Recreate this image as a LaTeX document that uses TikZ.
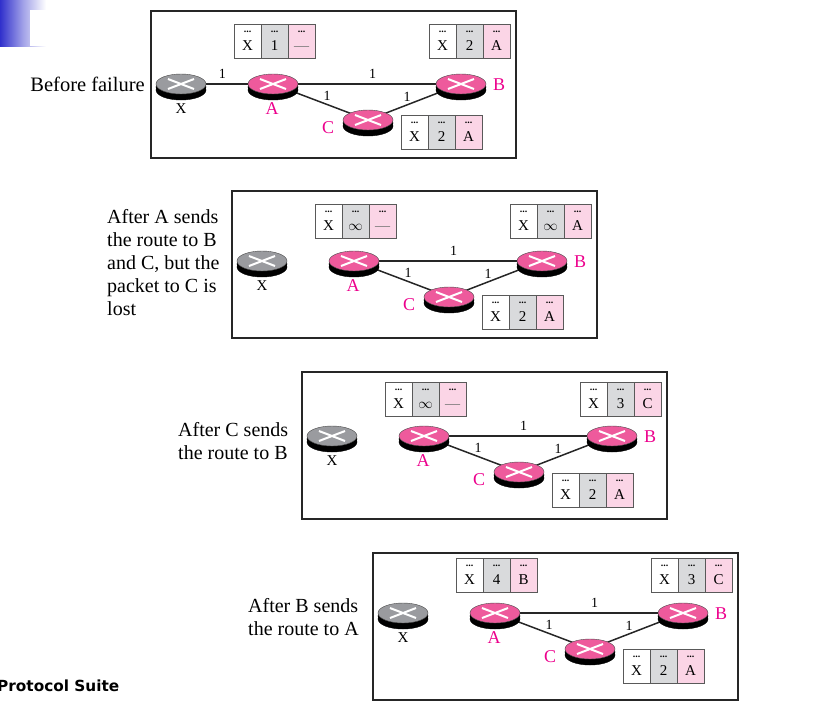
\documentclass[tikz,border=0pt]{standalone}
\usepackage{fontspec}
\setmainfont{Liberation Serif}
\newfontfamily\footfont{DejaVu Sans}
\usetikzlibrary{positioning,backgrounds,shadows,shapes.geometric}
\definecolor{hotpink}{HTML}{EC008C}
\definecolor{routerpink}{HTML}{EE5A9C}
\definecolor{routergray}{HTML}{9A9B9F}
\definecolor{cellgray}{HTML}{D9DADC}
\definecolor{cellpink}{HTML}{FBD5E6}
\definecolor{slidefade}{HTML}{3030CC}
\tikzset{
  panelbox/.style={draw=black!85,line width=1.2pt,minimum width=365pt,minimum height=147pt,inner sep=0pt,outer sep=0pt,anchor=north west},
  router/.style={ellipse,draw=black!70,line width=.4pt,fill=#1,minimum width=50pt,minimum height=20pt,inner sep=0pt,
    double copy shadow={shadow xshift=0pt,shadow yshift=-3pt,fill=black,draw=black},
    path picture={\draw[white,line width=2pt,shift={(path picture bounding box.center)}] (-13,-5) -- (13,5) (-13,5) -- (13,-5);}},
  rcell/.style={draw=black!65,line width=.6pt,minimum width=27pt,minimum height=34pt,inner sep=0pt,outer sep=0pt,align=center,fill=#1,font=\fontsize{15}{15}\selectfont},
  rlabel/.style={text=hotpink,font=\fontsize{18}{18}\selectfont,inner sep=0pt},
  xlabel/.style={font=\fontsize{15}{15}\selectfont,inner sep=0pt},
  cost/.style={font=\fontsize{14}{14}\selectfont,inner sep=0pt},
  link/.style={draw=black!85,line width=1.5pt},
  caption/.style={font=\fontsize{20}{23}\selectfont,inner sep=0pt,align=left,anchor=north west},
}
\newcommand{\dotrow}{{\fontsize{10}{5}\selectfont\textbf{...}}}
\newcommand{\nodash}{\textcolor{black!55}{---}}
% routing table of one router: name, position, then the two filled cells
\newcommand{\rtable}[4]{
  \node[rcell=white,anchor=north west] (#1x) at #2 {\dotrow\\[3pt]X};
  \node[rcell=cellgray,right=0pt of #1x] (#1c) {\dotrow\\[3pt]#3};
  \node[rcell=cellpink,right=0pt of #1c] (#1v) {\dotrow\\[3pt]#4};
}
\begin{document}
\begin{tikzpicture}[x=1pt,y=-1pt]
\useasboundingbox (0,0) rectangle (826,710);
% slide decoration
\shade[left color=slidefade,right color=white,middle color=slidefade!45] (0,0) rectangle (46,46);
\fill[white] (30,10) rectangle (46,46);
% the four panels have the same layout, only its height inside the box moves
\foreach \p/\dx/\dy/\ry/\ty/\ac/\av/\bc/\bv in {
  a/151/11/0/0/1/\nodash/2/A,
  b/232/191/-3/0/$\infty$/\nodash/$\infty$/A,
  c/302/372/-9/-3/$\infty$/\nodash/3/C,
  d/373/553/-13/-8/4/B/3/C}{
\begin{scope}[shift={(\dx,\dy)}]
\node[panelbox] (\p box) at (0,0) {};
\node[router=routergray] (\p X) at (30,73+\ry) {};
\node[router=routerpink] (\p A) at (122,73+\ry) {};
\node[router=routerpink] (\p B) at (310,73+\ry) {};
\node[router=routerpink] (\p C) at (217,109+\ry) {};
\node[xlabel] (\p xl) at (30,98+\ry) {X};
\node[rlabel] (\p al) at (121,98+\ry) {A};
\node[rlabel] (\p bl) at (348,74+\ry) {B};
\node[rlabel] (\p cl) at (177,117+\ry) {C};
\rtable{\p ta}{(83,13+\ty)}{\ac}{\av}
\rtable{\p tb}{(278,13+\ty)}{\bc}{\bv}
\rtable{\p tc}{(250,104+\ty)}{2}{A}
\begin{scope}[on background layer]
\draw[link] (\p A.center) -- node[cost,pos=.53,above=5pt] (\p ab) {1} (\p B.center);
\draw[link] (\p A.center) -- node[cost,pos=.57,above=3pt] (\p ac) {1} (\p C.center);
\draw[link] (\p C.center) -- node[cost,pos=.42,above=3pt] (\p cb) {1} (\p B.center);
\end{scope}
\end{scope}
}
\begin{scope}[on background layer]
\draw[link] (aX.center) -- node[cost,pos=.45,above=5pt] (axa) {1} (aA.center);
\end{scope}
% captions
\node[caption,anchor=east,font=\fontsize{20.5}{23}\selectfont] (capa) at (145,84) {Before failure};
\node[caption] (capb) at (107,209) {After A sends\\the route to B\\and C, but the\\packet to C is\\lost};
\node[caption] (capc) at (178,422) {After C sends\\the route to B};
\node[caption] (capd) at (248,598) {After B sends\\the route to A};
\node[font=\footfont\bfseries\fontsize{15.3}{15}\selectfont,anchor=west,inner sep=0pt] (suite) at (-3,686) {Protocol Suite};
\end{tikzpicture}
\end{document}
